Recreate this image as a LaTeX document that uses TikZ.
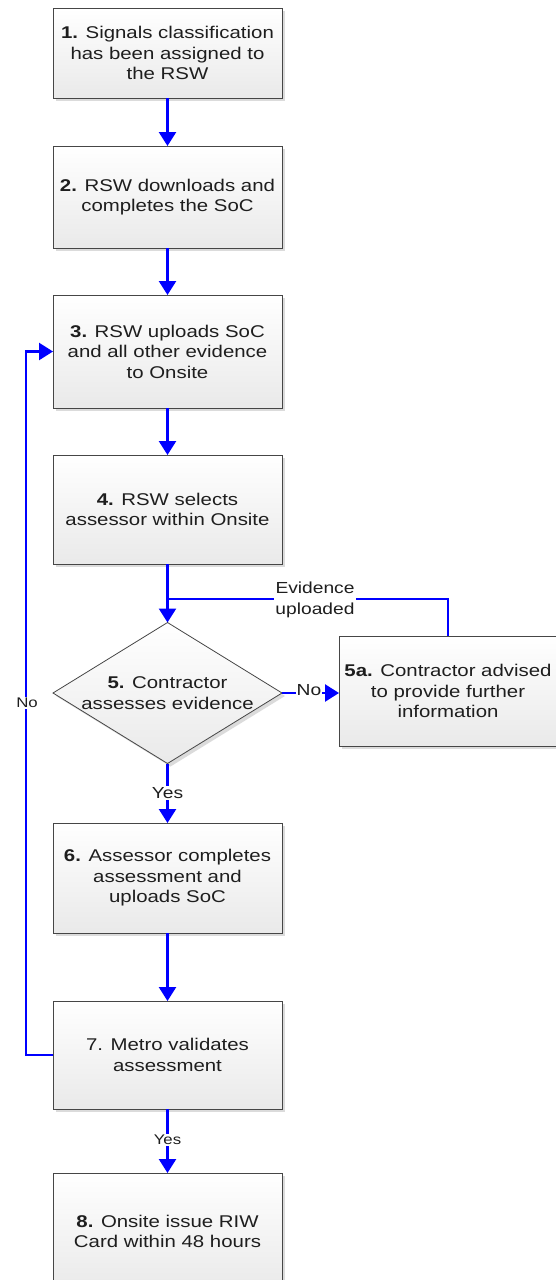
\documentclass[tikz,border=0pt]{standalone}
\usepackage{fontspec}
\setmainfont{Liberation Sans}[FakeStretch=1.2]
\usetikzlibrary{shapes.geometric,arrows.meta,shadows}
\definecolor{arrowblue}{RGB}{0,0,255}
\definecolor{boxline}{RGB}{70,70,70}
\definecolor{txt}{RGB}{30,30,30}
\begin{document}
\begin{tikzpicture}[x=1pt,y=-1pt,
  shade/.style={top color=white, bottom color=gray!17,
    drop shadow={shadow xshift=3pt, shadow yshift=-3pt, fill=gray!28, opacity=1}},
  box/.style={rectangle, draw=boxline, line width=0.8pt, shade,
    minimum width=229pt, inner sep=0pt, outer sep=0pt, align=center,
    font=\fontsize{17}{20.5}\selectfont, text=txt},
  dia/.style={diamond, draw=boxline, line width=0.8pt, shade,
    minimum width=229pt, minimum height=141pt, inner sep=0pt, outer sep=0pt},
  flow/.style={draw=arrowblue, line width=2.5pt, -{Triangle[width=17pt,length=14pt]}},
  link/.style={draw=arrowblue, line width=2.5pt},
  lbl/.style={fill=white, inner sep=1pt, align=center, text=txt,
    font=\fontsize{16}{20.5}\selectfont},
  slbl/.style={fill=white, inner sep=1pt, align=center, text=txt,
    font=\fontsize{14}{18}\selectfont}
]
\useasboundingbox (0,0) rectangle (555,1280);

\node[box, minimum height=90pt] (b1) at (167.5,53)
  {\textbf{1.} Signals classification\\has been assigned to\\the RSW};
\node[box, minimum height=102pt] (b2) at (167.5,197)
  {\textbf{2.} RSW downloads and\\completes the SoC};
\node[box, minimum height=113pt] (b3) at (167.5,351.5)
  {\textbf{3.} RSW uploads SoC\\and all other evidence\\to Onsite};
\node[box, minimum height=109pt] (b4) at (167.5,509.5)
  {\textbf{4.} RSW selects\\assessor within Onsite};
\node[dia] (d5) at (167.5,693) {};
\node[align=center, text=txt, font=\fontsize{17}{20.5}\selectfont] (d5t) at (d5)
  {\textbf{5.} Contractor\\assesses evidence};
\node[box, minimum width=218pt, minimum height=110pt] (b5a) at (448,691)
  {\textbf{5a.} Contractor advised\\to provide further\\information};
\node[box, minimum height=110pt] (b6) at (167.5,878)
  {\textbf{6.} Assessor completes\\assessment and\\uploads SoC};
\node[box, minimum height=108pt] (b7) at (167.5,1055)
  {7. Metro validates\\assessment};
\node[box, minimum height=117pt] (b8) at (167.5,1231.5)
  {\textbf{8.} Onsite issue RIW\\Card within 48 hours};

\draw[flow] (b1) -- (b2);
\draw[flow] (b2) -- (b3);
\draw[flow] (b3) -- (b4);
\draw[flow] (b4) -- (d5);

\coordinate (j) at (167.5,599);
\draw[link] (b5a.north) |- (j);
\node[lbl] (evl) at (315,600) {Evidence\\uploaded};

\draw[flow] (d5.east) -- (d5.east -| b5a.west);
\node[lbl, inner sep=0.5pt] (no1) at (309,690) {No};

\draw[flow] (d5.south) -- (b6);
\node[lbl] (yes1) at (167.5,793) {Yes};

\draw[flow] (b6) -- (b7);

\coordinate (lp) at (26,1055);
\draw[flow] (b7.west) -- (lp) |- (b3.west);
\node[slbl] (no2) at (27,703) {No};

\draw[flow] (b7) -- (b8);
\node[slbl] (yes2) at (167.5,1140) {Yes};
\end{tikzpicture}
\end{document}
